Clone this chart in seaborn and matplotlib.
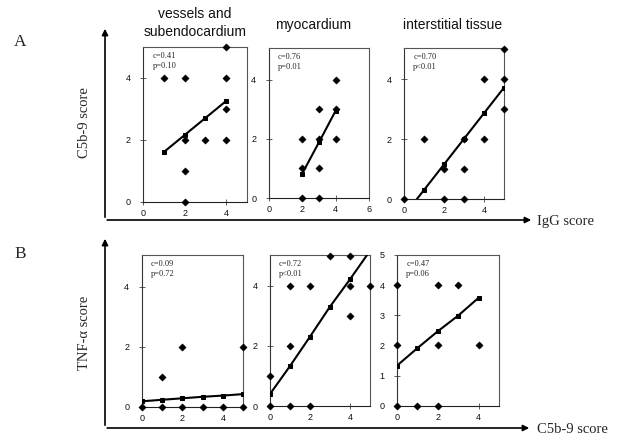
import numpy as np
import pandas as pd
import matplotlib
matplotlib.use("Agg")
import matplotlib.pyplot as plt
from matplotlib.patches import FancyArrowPatch
import seaborn as sns

sns.set_theme(style="white")
plt.rcParams['font.family'] = ['Liberation Sans', 'DejaVu Sans']

# ---------------- data ----------------
titles = ["vessels and\nsubendocardium", "myocardium", "interstitial tissue"]

# Row A: IgG score (x) vs C5b-9 score (y)
a1_x = [1, 2, 4, 4, 4, 2, 3, 4, 2, 2]
a1_y = [4, 4, 5, 4, 3, 2, 2, 2, 1, 0]
a1_fit_x = [1, 2, 3, 4]
a1_fit_y = [1.6, 2.15, 2.7, 3.25]
a1_stat = "c=0.41\np=0.10"

a2_x = [4, 3, 4, 2, 3, 4, 2, 3, 2, 3]
a2_y = [4, 3, 3, 2, 2, 2, 1, 1, 0, 0]
a2_fit_x = [2, 3, 4]
a2_fit_y = [0.82, 1.88, 2.95]
a2_stat = "c=0.76\np=0.01"

a3_x = [5, 4, 5, 5, 1, 3, 4, 2, 3, 0, 2, 3]
a3_y = [5, 4, 4, 3, 2, 2, 2, 1, 1, 0, 0, 0]
a3_fit_x = [0, 1, 2, 3, 4, 5]
a3_fit_y = [-0.53, 0.32, 1.17, 2.02, 2.87, 3.72]
a3_stat = "c=0.70\np<0.01"

# Row B: C5b-9 score (x) vs TNF-alpha score (y)
b1_x = [1, 2, 5, 0, 1, 2, 3, 4, 5]
b1_y = [1, 2, 2, 0, 0, 0, 0, 0, 0]
b1_fit_x = [0, 1, 2, 3, 4, 5]
b1_fit_y = [0.18, 0.23, 0.28, 0.33, 0.37, 0.42]
b1_stat = "c=0.09\np=0.72"

b2_x = [0, 0, 1, 1, 2, 4, 5, 4, 3, 4, 1, 2]
b2_y = [1, 0, 2, 4, 4, 4, 4, 3, 5, 5, 0, 0]
b2_fit_x = [0, 1, 2, 3, 4, 5]
b2_fit_y = [0.4, 1.33, 2.31, 3.31, 4.22, 5.17]
b2_stat = "c=0.72\np<0.01"

b3_x = [0, 0, 0, 2, 3, 2, 4, 1, 2]
b3_y = [4, 2, 0, 4, 4, 2, 2, 0, 0]
b3_fit_x = [0, 1, 2, 3, 4]
b3_fit_y = [1.33, 1.91, 2.47, 2.99, 3.58]
b3_stat = "c=0.47\np=0.06"

# ---------------- figure ----------------
W, H = 627, 444
fig = plt.figure(figsize=(W / 100, H / 100), dpi=100)


def fx(px):
    return px / W


def fy(py):
    return 1 - py / H


def px_axes(left, right, top, bottom):
    return fig.add_axes([left / W, 1 - bottom / H, (right - left) / W, (bottom - top) / H])


panels = [
    dict(box=(143, 247, 46.7, 201.7), x=a1_x, y=a1_y, fx=a1_fit_x, fy=a1_fit_y, stat=a1_stat,
         xlim=(0, 5), ylim=(0, 5), xt=[0, 2, 4], yt=[0, 2, 4]),
    dict(box=(268.7, 369, 48, 198), x=a2_x, y=a2_y, fx=a2_fit_x, fy=a2_fit_y, stat=a2_stat,
         xlim=(0, 6), ylim=(0, 5.08), xt=[0, 2, 4, 6], yt=[0, 2, 4]),
    dict(box=(404.3, 504, 47.7, 199.3), x=a3_x, y=a3_y, fx=a3_fit_x, fy=a3_fit_y, stat=a3_stat,
         xlim=(0, 5), ylim=(0, 5.05), xt=[0, 2, 4], yt=[0, 2, 4]),
    dict(box=(141.7, 243.3, 255, 406.7), x=b1_x, y=b1_y, fx=b1_fit_x, fy=b1_fit_y, stat=b1_stat,
         xlim=(0, 5), ylim=(0, 5.05), xt=[0, 2, 4], yt=[0, 2, 4]),
    dict(box=(270, 370, 255, 406), x=b2_x, y=b2_y, fx=b2_fit_x, fy=b2_fit_y, stat=b2_stat,
         xlim=(0, 5), ylim=(0, 5.03), xt=[0, 2, 4], yt=[0, 2, 4]),
    dict(box=(397, 499, 255, 405.7), x=b3_x, y=b3_y, fx=b3_fit_x, fy=b3_fit_y, stat=b3_stat,
         xlim=(0, 5), ylim=(0, 5), xt=[0, 2, 4], yt=[0, 1, 2, 3, 4, 5]),
]

for p in panels:
    ax = px_axes(*p["box"])
    df = pd.DataFrame({"x": p["x"], "y": p["y"]})
    fit = pd.DataFrame({"x": p["fx"], "y": p["fy"]})
    sns.lineplot(data=fit, x="x", y="y", ax=ax, color="black", lw=1.5,
                 marker="s", markersize=3.5, markeredgecolor="black", clip_on=True, zorder=3)
    sns.scatterplot(data=df, x="x", y="y", ax=ax, marker="D", s=14, color="black",
                    edgecolor="black", linewidth=0.3, clip_on=False, zorder=4)
    ax.set_xlim(*p["xlim"])
    ax.set_ylim(*p["ylim"])
    ax.set_xticks(p["xt"])
    ax.set_yticks(p["yt"])
    ax.set_xlabel("")
    ax.set_ylabel("")
    ax.tick_params(axis="both", which="both", direction="inout", length=4, width=0.6,
                   color="#444444", labelsize=6.5, labelcolor="#111111", pad=3,
                   bottom=True, left=True)
    ax.tick_params(axis="y", pad=7)
    for s in ax.spines.values():
        s.set_visible(True)
        s.set_color("#555555")
        s.set_linewidth(0.8)
    ax.spines["bottom"].set_color("#222222")
    ax.spines["left"].set_color("#333333")
    ax.set_facecolor("white")
    ax.text(0.09, 0.965, p["stat"], transform=ax.transAxes, ha="left", va="top",
            fontsize=6, family=["Liberation Serif", "DejaVu Serif"], linespacing=1.3)

# panel titles
t1a, t1b = titles[0].split("\n")
fig.text(fx(195), fy(14), t1a, ha="center", va="center", fontsize=10, color="#111111")
fig.text(fx(195), fy(32), t1b, ha="center", va="center", fontsize=10, color="#111111")
fig.text(fx(313), fy(25), titles[1], ha="center", va="center", fontsize=10, color="#111111")
fig.text(fx(453), fy(25), titles[2], ha="center", va="center", fontsize=10, color="#111111")

# ---------------- big axis arrows ----------------
def arrow(x0, y0, x1, y1):
    a = FancyArrowPatch((fx(x0), fy(y0)), (fx(x1), fy(y1)), transform=fig.transFigure,
                        arrowstyle="-|>", mutation_scale=9, lw=1.2, color="black")
    fig.add_artist(a)


arrow(105, 220, 105, 26)
arrow(104.4, 220, 534, 220)
arrow(105, 428, 105, 236)
arrow(104.4, 428, 532, 428)

serif = ["Liberation Serif", "DejaVu Serif"]
fig.text(fx(537), fy(221), "IgG score", ha="left", va="center", fontsize=10.5, family=serif)
fig.text(fx(537), fy(429), "C5b-9 score", ha="left", va="center", fontsize=10.5, family=serif)
fig.text(fx(85), fy(123), "C5b-9 score", rotation=90, ha="center", va="center",
         fontsize=10.5, family=serif)
fig.text(fx(85), fy(333), "TNF-\u03b1 score", rotation=90, ha="center", va="center",
         fontsize=10.5, family=serif)
fig.text(fx(20), fy(42), "A", ha="center", va="center", fontsize=12.5, family=serif)
fig.text(fx(20), fy(254), "B", ha="center", va="center", fontsize=12.5, family=serif)

fig.savefig("out.png", dpi=100)
